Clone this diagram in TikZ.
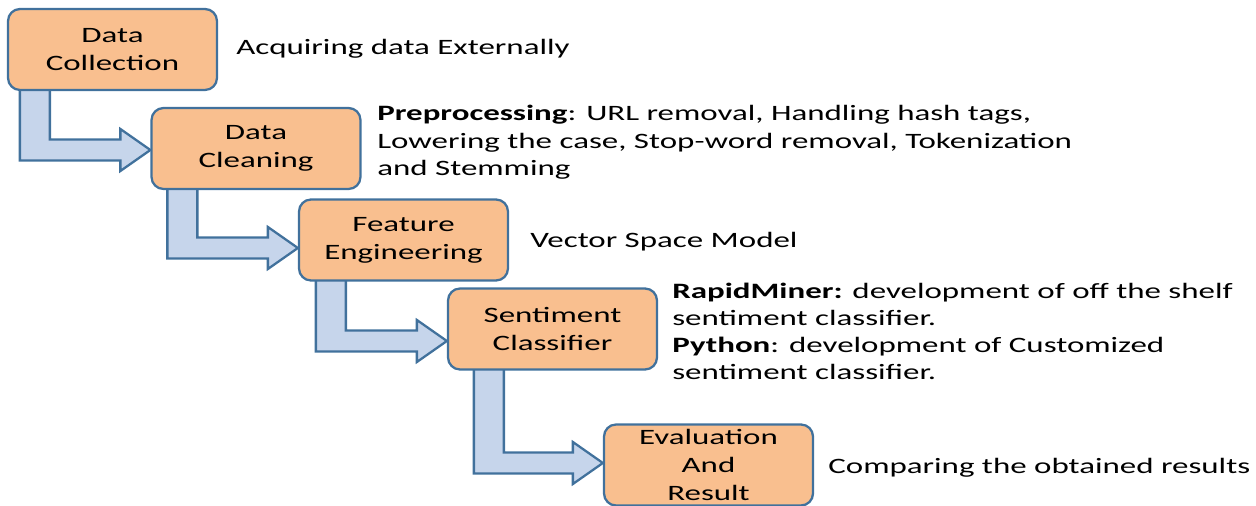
\documentclass[tikz,border=0pt]{standalone}
\usepackage{fontspec}
\setmainfont{Carlito}[FakeStretch=1.5]
\usetikzlibrary{calc, backgrounds}

\definecolor{stagefill}{HTML}{F9BF8F}
\definecolor{stageline}{HTML}{41719C}
\definecolor{flowfill}{HTML}{C6D5EB}

% bent block arrow: #1 from node, #2 to node, #3 stem offset, #4 tip shift
\newcommand{\bentarrow}[4]{%
	\coordinate (tip) at ($(#2.west)+(0,#4)$);
	\draw[flow] ($(#1.south west)+(#3,-4)$) |- ($(tip)+(-30,10.5)$) -- ($(tip)+(-30,21)$)
		-- (tip) -- ($(tip)+(-30,-21)$) -- ($(tip)+(-30,-10.5)$) -| ($(#1.south west)+(#3+30,-4)$) -- cycle;
}

\begin{document}
\begin{tikzpicture}[x=0.02cm, y=-0.02cm,
		stage/.style={draw=stageline, fill=stagefill, line width=1.3pt, rounded corners=0.24cm, minimum width=4.18cm, minimum height=1.62cm, inner sep=0pt, align=center, font=\fontsize{12.5}{16}\selectfont},
		note/.style={anchor=base west, inner sep=0pt, align=left, font=\fontsize{12.5}{15.9}\selectfont},
		flow/.style={draw=stageline, fill=flowfill, line width=1.3pt, line join=miter}
	]
	\useasboundingbox (0,0) rectangle (1256,506);

	% Stages
	\node[stage] (dcoll) at (112.5, 49.5) {Data\\Collection};
	\node[stage] (dclean) at (256, 148.5) {Data\\Cleaning};
	\node[stage] (feng) at (403.5, 240) {Feature\\Engineering};
	\node[stage] (sclass) at (552.5, 329) {Sentiment\\Classifier};
	\node[stage] (evalres) at (708.5, 465) {Evaluation\\And\\Result};

	% Notes beside the stages (anchored on the last line)
	\node[note] (ncoll) at (236, 55) {Acquiring data Externally};
	\node[note] (nclean) at (377, 176) {\textbf{Preprocessing}: URL removal, Handling hash tags,\\Lowering the case, Stop-word removal, Tokenization\\and Stemming};
	\node[note] (nfeng) at (530, 248) {Vector Space Model};
	\node[note, font=\fontsize{12.5}{15.3}\selectfont] (nclass) at (672, 379) {\textbf{RapidMiner:} development of off the shelf\\sentiment classifier.\\\textbf{Python}: development of Customized\\sentiment classifier.};
	\node[note] (neval) at (828, 473) {Comparing the obtained results};

	% Arrows between the stages
	\begin{scope}[on background layer]
		\bentarrow{dcoll}{dclean}{13}{1.5}
		\bentarrow{dclean}{feng}{17}{8}
		\bentarrow{feng}{sclass}{18}{12}
		\bentarrow{sclass}{evalres}{27}{-2}
	\end{scope}
\end{tikzpicture}
\end{document}
